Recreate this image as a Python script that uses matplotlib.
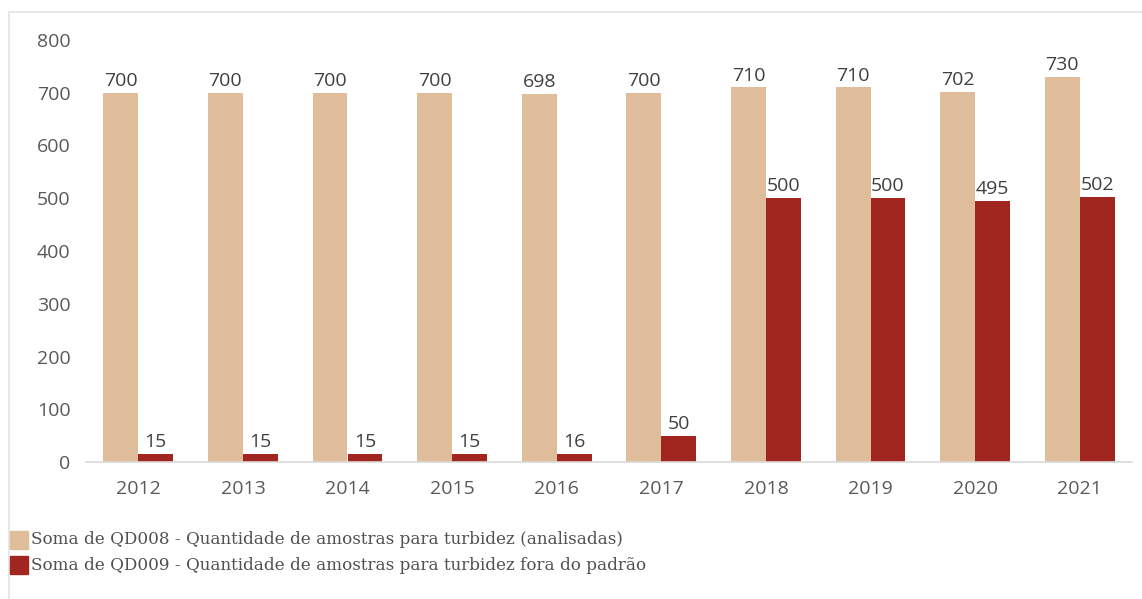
import matplotlib.pyplot as plt
import numpy as np
from matplotlib.patches import Rectangle

years = ["2012", "2013", "2014", "2015", "2016", "2017", "2018", "2019", "2020", "2021"]
analisadas = [700, 700, 700, 700, 698, 700, 710, 710, 702, 730]
fora_padrao = [15, 15, 15, 15, 16, 50, 500, 500, 495, 502]
labels = ["Soma de QD008 - Quantidade de amostras para turbidez (analisadas)",
          "Soma de QD009 - Quantidade de amostras para turbidez fora do padrão"]

c_tan = "#dfbc9a"
c_red = "#a0261f"
c_text = "#404040"
c_axis = "#d9d9d9"

W, H = 1142, 599
fig = plt.figure(figsize=(W / 100, H / 100), dpi=100)
plt.rcParams["font.family"] = ["Open Sans", "DejaVu Sans"]

# outer light border (cropped at right and bottom in the original)
fig.patches.append(Rectangle((9 / W, -0.05), 1.0, 1.05 - 12 / H,
                             transform=fig.transFigure, fill=False,
                             edgecolor="#e3e3e3", lw=1.2))

ax = fig.add_axes([86 / W, 1 - 462 / H, (1132 - 86) / W, (462 - 40) / H])
x = np.arange(len(years))
w = 0.334
b1 = ax.bar(x - w / 2, analisadas, w, color=c_tan)
b2 = ax.bar(x + w / 2, fora_padrao, w, color=c_red)

for bars in (b1, b2):
    ax.bar_label(bars, padding=2, fontsize=14, color=c_text)

ax.set_xlim(-0.5, len(years) - 0.5)
ax.set_ylim(0, 800)
ax.set_yticks(range(0, 801, 100))
ax.set_xticks(x)
ax.set_xticklabels(years)
ax.tick_params(axis="both", length=0, labelsize=14, colors="#595959")
ax.tick_params(axis="x", pad=13)
ax.tick_params(axis="y", pad=11)
for s in ["top", "right", "left"]:
    ax.spines[s].set_visible(False)
ax.spines["bottom"].set_color(c_axis)
ax.spines["bottom"].set_linewidth(1.2)

# legend drawn as two rows in serif
for i, (lab, col) in enumerate(zip(labels, [c_tan, c_red])):
    yc = 540 + i * 25
    fig.patches.append(Rectangle((10 / W, 1 - (yc + 9) / H), 18 / W, 18 / H,
                                 transform=fig.transFigure, color=col))
    fig.text(31 / W, 1 - yc / H, lab, fontsize=12.1, color="#505050",
             family=["DejaVu Serif"], va="center", ha="left")

plt.savefig("out.png", dpi=100)
